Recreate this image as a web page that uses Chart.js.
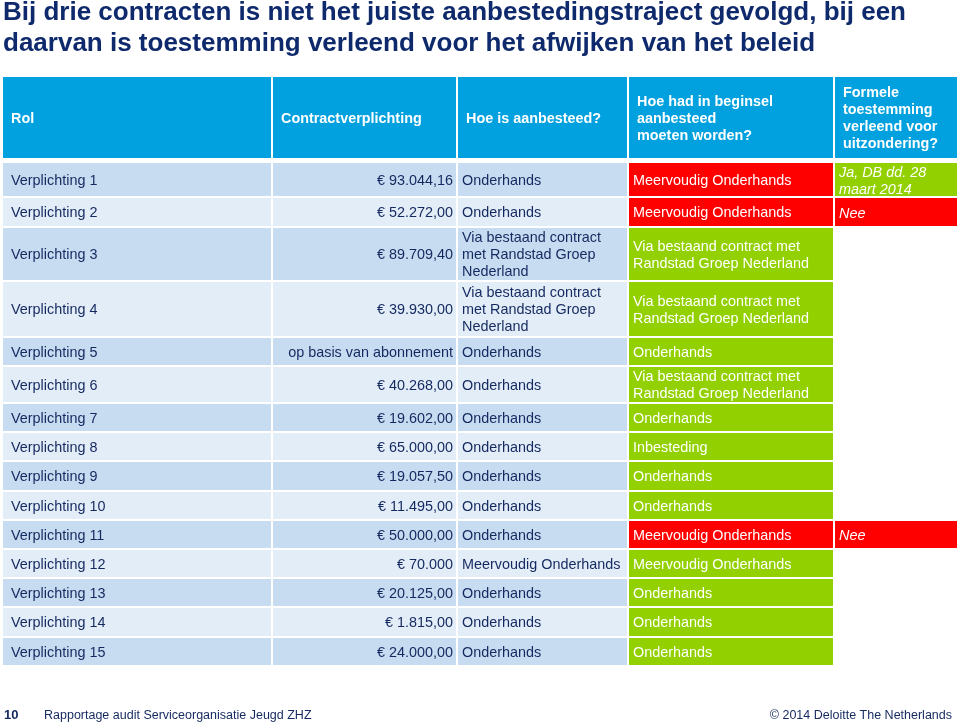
<!DOCTYPE html>
<html>
<head>
<meta charset="utf-8">
<style>
    html, body { margin: 0; padding: 0; background: #fff; }
    #slideContainer { width: 960px; height: 726px; position: relative; }
</style>
</head>
<body>
<div id="slideContainer">
    <canvas id="slideChart"></canvas>
</div>

<script src="https://cdn.jsdelivr.net/npm/chart.js"></script>
<script>
    // --- table content -------------------------------------------------
    const titleLines = [
        'Bij drie contracten is niet het juiste aanbestedingstraject gevolgd, bij een',
        'daarvan is toestemming verleend voor het afwijken van het beleid'
    ];
    const headers = [
        'Rol',
        'Contractverplichting',
        'Hoe is aanbesteed?',
        'Hoe had in beginsel\naanbesteed\nmoeten worden?',
        'Formele toestemming verleend voor uitzondering?'
    ];
    const roles = [
        'Verplichting 1', 'Verplichting 2', 'Verplichting 3', 'Verplichting 4', 'Verplichting 5',
        'Verplichting 6', 'Verplichting 7', 'Verplichting 8', 'Verplichting 9', 'Verplichting 10',
        'Verplichting 11', 'Verplichting 12', 'Verplichting 13', 'Verplichting 14', 'Verplichting 15'
    ];
    const amounts = [
        '€ 93.044,16', '€ 52.272,00', '€ 89.709,40', '€ 39.930,00', 'op basis van abonnement',
        '€ 40.268,00', '€ 19.602,00', '€ 65.000,00', '€ 19.057,50', '€ 11.495,00',
        '€ 50.000,00', '€ 70.000', '€ 20.125,00', '€ 1.815,00', '€ 24.000,00'
    ];
    const RANDSTAD = 'Via bestaand contract met Randstad Groep Nederland';
    const procuredHow = [
        'Onderhands', 'Onderhands', RANDSTAD, RANDSTAD, 'Onderhands',
        'Onderhands', 'Onderhands', 'Onderhands', 'Onderhands', 'Onderhands',
        'Onderhands', 'Meervoudig Onderhands', 'Onderhands', 'Onderhands', 'Onderhands'
    ];
    const shouldHaveBeen = [
        'Meervoudig Onderhands', 'Meervoudig Onderhands', RANDSTAD, RANDSTAD, 'Onderhands',
        RANDSTAD, 'Onderhands', 'Inbesteding', 'Onderhands', 'Onderhands',
        'Meervoudig Onderhands', 'Meervoudig Onderhands', 'Onderhands', 'Onderhands', 'Onderhands'
    ];
    const compliant = [
        false, false, true, true, true,
        true, true, true, true, true,
        false, true, true, true, true
    ];
    const exemption = [
        'Ja, DB dd. 28 maart 2014', 'Nee', null, null, null,
        null, null, null, null, null,
        'Nee', null, null, null, null
    ];
    const footerPage = '10';
    const footerLeft = 'Rapportage audit Serviceorganisatie Jeugd ZHZ';
    const footerRight = '© 2014 Deloitte The Netherlands';

    // --- layout (pixels) -----------------------------------------------
    const colWidths = [270, 185, 171, 206, 124];
    const colGap = 2;
    const rowHeights = [86, 35, 30, 54, 56, 29, 37, 29, 29, 30, 29, 29, 29, 29, 30, 29];
    const rowGaps = [5, 2, 2, 2, 2, 2, 2, 2, 2, 2, 2, 2, 2, 2, 2, 2];

    const COLORS = {
        header: '#00A1DE',
        rowDark: '#C7DCF1',
        rowLight: '#E3EDF8',
        green: '#93D000',
        red: '#FF0000',
        navy: '#14295f',
        title: '#0f2a6c',
        white: '#ffffff'
    };
    const FONT = '"Liberation Sans", Arial, Helvetica, sans-serif';

    const colStarts = colWidths.map((w, i) => colWidths.slice(0, i).reduce((a, b) => a + b, 0));
    const rowStarts = rowHeights.map((h, i) => rowHeights.slice(0, i).reduce((a, b) => a + b, 0));
    const tableWidth = colWidths.reduce((a, b) => a + b, 0);
    const tableHeight = rowHeights.reduce((a, b) => a + b, 0);

    function bodyFill(row) {
        return row % 2 === 0 ? COLORS.rowDark : COLORS.rowLight;
    }

    // one dataset per column; each cell is a floating bar
    function buildColumn(col) {
        const cells = [];
        const colors = [];
        const push = (row, text, fill, style) => {
            cells.push({
                x: colStarts[col] + (colWidths[col] - colGap) / 2,
                y: [rowStarts[row], rowStarts[row] + rowHeights[row] - rowGaps[row]],
                text: text,
                style: style
            });
            colors.push(fill);
        };
        push(0, headers[col], COLORS.header, 'header');
        roles.forEach((r, i) => {
            const row = i + 1;
            if (col === 0) push(row, roles[i], bodyFill(i), 'body');
            if (col === 1) push(row, amounts[i], bodyFill(i), 'amount');
            if (col === 2) push(row, procuredHow[i], bodyFill(i), 'body');
            if (col === 3) push(row, shouldHaveBeen[i], compliant[i] ? COLORS.green : COLORS.red, 'verdict');
            if (col === 4 && exemption[i]) {
                push(row, exemption[i], exemption[i].startsWith('Ja') ? COLORS.green : COLORS.red, 'exemption');
            }
        });
        return {
            label: headers[col],
            data: cells,
            backgroundColor: colors,
            barThickness: colWidths[col] - colGap,
            grouped: false,
            borderWidth: 0,
            inflateAmount: 0
        };
    }

    function wrapLines(ctx, text, maxWidth) {
        const out = [];
        text.split('\n').forEach(par => {
            let line = '';
            par.split(' ').forEach(word => {
                const test = line ? line + ' ' + word : word;
                if (line && ctx.measureText(test).width > maxWidth) {
                    out.push(line);
                    line = word;
                } else {
                    line = test;
                }
            });
            out.push(line);
        });
        return out;
    }

    const cellTextPlugin = {
        id: 'cellText',
        afterDatasetsDraw(chart) {
            const ctx = chart.ctx;
            chart.data.datasets.forEach((ds, di) => {
                const meta = chart.getDatasetMeta(di);
                meta.data.forEach((bar, j) => {
                    const cell = ds.data[j];
                    const left = bar.x - bar.width / 2;
                    const right = bar.x + bar.width / 2;
                    const top = Math.min(bar.y, bar.base);
                    const bottom = Math.max(bar.y, bar.base);
                    let font = '14.4px ' + FONT;
                    let color = COLORS.navy;
                    let padL = 4, padR = 4, align = 'left';
                    if (cell.style === 'header') {
                        font = 'bold 14.4px ' + FONT;
                        color = COLORS.white;
                        padL = 8;
                    } else if (cell.style === 'amount') {
                        align = 'right';
                        padR = 3;
                    } else if (cell.style === 'verdict') {
                        color = COLORS.white;
                    } else if (cell.style === 'exemption') {
                        font = 'italic 14.4px ' + FONT;
                        color = COLORS.white;
                    } else if (di === 0) {
                        padL = 8;
                    }
                    ctx.save();
                    ctx.font = font;
                    ctx.fillStyle = color;
                    ctx.textBaseline = 'middle';
                    ctx.textAlign = align;
                    const lines = wrapLines(ctx, cell.text, right - left - padL - padR);
                    const lineH = 17;
                    // 'middle' sits a touch high for Latin text, nudge down
                    const cy = (top + bottom) / 2 + 1.5;
                    lines.forEach((ln, k) => {
                        const y = cy + (k - (lines.length - 1) / 2) * lineH;
                        ctx.fillText(ln, align === 'right' ? right - padR : left + padL, y);
                    });
                    ctx.restore();
                });
            });
        }
    };

    const slideTextPlugin = {
        id: 'slideText',
        afterDraw(chart) {
            const ctx = chart.ctx;
            ctx.save();
            ctx.textBaseline = 'alphabetic';
            ctx.fillStyle = COLORS.title;
            ctx.font = 'bold 26px ' + FONT;
            ctx.textAlign = 'left';
            titleLines.forEach((ln, i) => ctx.fillText(ln, 3, 20 + i * 30.5));

            ctx.fillStyle = COLORS.navy;
            ctx.font = 'bold 13px ' + FONT;
            ctx.fillText(footerPage, 4, 719);
            ctx.font = '12.5px ' + FONT;
            ctx.fillText(footerLeft, 44, 719);
            ctx.textAlign = 'right';
            ctx.fillText(footerRight, 952, 719);
            ctx.restore();
        }
    };

    document.addEventListener('DOMContentLoaded', function () {
        const ctx = document.getElementById('slideChart').getContext('2d');
        new Chart(ctx, {
            type: 'bar',
            data: {
                datasets: colWidths.map((w, c) => buildColumn(c))
            },
            options: {
                responsive: true,
                maintainAspectRatio: false,
                animation: false,
                events: [],
                layout: { padding: { left: 3, right: 1, top: 77, bottom: 59 } },
                scales: {
                    x: { type: 'linear', display: false, offset: false, min: 0, max: tableWidth },
                    y: { type: 'linear', display: false, reverse: true, min: 0, max: tableHeight }
                },
                plugins: {
                    legend: { display: false },
                    tooltip: { enabled: false },
                    title: { display: false }
                }
            },
            plugins: [cellTextPlugin, slideTextPlugin]
        });
    });
</script>
</body>
</html>
